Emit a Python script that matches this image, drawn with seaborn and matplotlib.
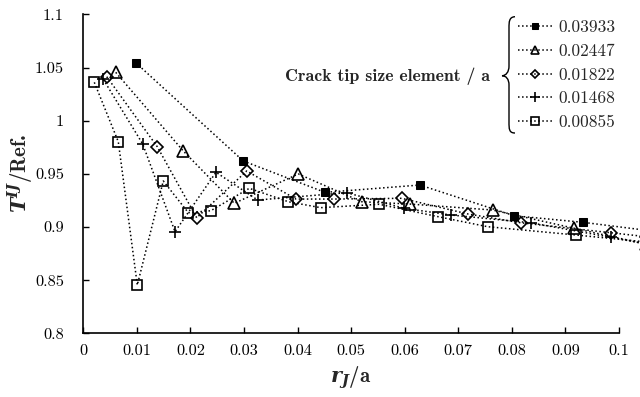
import matplotlib
matplotlib.use("Agg")
import matplotlib.pyplot as plt
from matplotlib.path import Path
from matplotlib.patches import PathPatch
import seaborn as sns
import pandas as pd

# ---- data ----
labels = ["0.03933", "0.02447", "0.01822", "0.01468", "0.00855"]

x_03933 = [0.00978, 0.02987, 0.04512, 0.06285, 0.08046, 0.09334, 0.1050]
y_03933 = [1.0546, 0.9621, 0.9326, 0.9395, 0.9106, 0.9044, 0.8970]

x_02447 = [0.00605, 0.01867, 0.02819, 0.04013, 0.05197, 0.06099, 0.07642, 0.09166, 0.1050]
y_02447 = [1.0455, 0.9715, 0.9223, 0.9499, 0.9238, 0.9216, 0.9160, 0.8988, 0.8840]

x_01822 = [0.00437, 0.01381, 0.02117, 0.0305, 0.0397, 0.0468, 0.05944, 0.07187, 0.08165, 0.09851, 0.1050]
y_01822 = [1.0414, 0.9755, 0.9087, 0.9527, 0.9263, 0.9263, 0.9270, 0.9122, 0.9040, 0.8946, 0.8910]

x_01468 = [0.00373, 0.01109, 0.01712, 0.02477, 0.03256, 0.04917, 0.05992, 0.06864, 0.08352, 0.09851, 0.1050]
y_01468 = [1.0389, 0.9781, 0.8956, 0.9515, 0.9254, 0.9323, 0.9176, 0.9113, 0.9040, 0.8903, 0.8840]

x_00855 = [0.00205, 0.00653, 0.01008, 0.01493, 0.0196, 0.02378, 0.03099, 0.03827, 0.04432,
           0.05525, 0.06627, 0.07549, 0.09197, 0.1050]
y_00855 = [1.0361, 0.9802, 0.8454, 0.9433, 0.9135, 0.9153, 0.9364, 0.9238, 0.9182,
           0.9214, 0.9097, 0.9003, 0.8925, 0.8860]

xticks = [0, 0.01, 0.02, 0.03, 0.04, 0.05, 0.06, 0.07, 0.08, 0.09, 0.1]
xtick_labels = ["0", "0.01", "0.02", "0.03", "0.04", "0.05", "0.06", "0.07", "0.08", "0.09", "0.1"]
yticks = [0.8, 0.85, 0.9, 0.95, 1.0, 1.05, 1.1]
ytick_labels = ["0.8", "0.85", "0.9", "0.95", "1", "1.05", "1.1"]

series = [(x_03933, y_03933), (x_02447, y_02447), (x_01822, y_01822),
          (x_01468, y_01468), (x_00855, y_00855)]

# ---- styling ----
sns.set_theme(style="ticks")
plt.rcParams["font.family"] = ["cmr10"]
plt.rcParams["axes.formatter.use_mathtext"] = True
plt.rcParams["mathtext.fontset"] = "custom"
plt.rcParams["mathtext.rm"] = "cmr10"
plt.rcParams["mathtext.bf"] = "cmb10"
plt.rcParams["mathtext.bfit"] = "DejaVu Serif:italic:bold"

markers = [
    dict(marker="s", markersize=5.5, markerfacecolor="black", markeredgecolor="black"),
    dict(marker="^", markersize=8, markerfacecolor="none", markeredgecolor="black", markeredgewidth=1.2),
    dict(marker="D", markersize=6, markerfacecolor="none", markeredgecolor="black", markeredgewidth=1.2),
    dict(marker="+", markersize=9, markeredgecolor="black", markeredgewidth=1.2),
    dict(marker="s", markersize=7, markerfacecolor="none", markeredgecolor="black", markeredgewidth=1.2),
]

fig = plt.figure(figsize=(6.4, 3.97), dpi=100)
ax = fig.add_axes([0.1302, 0.1604, 0.967 - 0.1302, 0.9637 - 0.1604])

for (xs, ys), lab, mk in zip(series, labels, markers):
    df = pd.DataFrame({"x": xs, "y": ys})
    sns.lineplot(data=df, x="x", y="y", ax=ax, sort=False, estimator=None,
                 color="black", linestyle=":", linewidth=1.1, label=lab,
                 clip_on=False, **mk)

ax.set_xlim(0, 0.1)
ax.set_ylim(0.8, 1.1)
ax.set_xticks(xticks)
ax.set_xticklabels(xtick_labels)
ax.set_yticks(yticks)
ax.set_yticklabels(ytick_labels)
ax.tick_params(axis="both", direction="in", length=4, width=1, labelsize=11.8, colors="black")
ax.tick_params(axis="y", pad=14)
ax.tick_params(axis="x", pad=8)
for s in ["top", "right"]:
    ax.spines[s].set_visible(False)
for s in ["left", "bottom"]:
    ax.spines[s].set_color("black")
    ax.spines[s].set_linewidth(1.2)
ax.grid(False)

ax.set_xlabel(r"$\mathbfit{r}_{\mathbfit{J}}$/a", fontfamily="cmb10", fontsize=15, labelpad=4)
ax.set_ylabel(r"$\mathbfit{T}^{\mathbfit{IJ}}$/Ref.", fontfamily="cmb10", fontsize=15, labelpad=0)

leg = ax.legend(loc="upper left", bbox_to_anchor=(518 / 640, 1 - 20 / 397),
                bbox_transform=fig.transFigure, frameon=False, fontsize=12.5,
                handlelength=1.96, handletextpad=0.35, labelspacing=0.48, borderpad=0,
                borderaxespad=0)
for h in leg.legend_handles:
    h.set_markersize(h.get_markersize() * 0.75)

fig.text(490 / 640, 1 - 76 / 397, "Crack tip size element / a", fontfamily="cmb10",
         fontsize=12.8, ha="right", va="center")

# curly brace
def P(x, y):
    return (x / 640, 1 - y / 397)

verts = [P(515, 16.7), P(509, 17), P(509, 22), P(509, 28),
         P(509, 66),
         P(509, 72), P(506, 75.7), P(502, 75.7),
         P(506, 75.7), P(509, 79), P(509, 85),
         P(509, 122),
         P(509, 129), P(509, 133), P(515, 133)]
codes = [Path.MOVETO, Path.CURVE4, Path.CURVE4, Path.CURVE4,
         Path.LINETO,
         Path.CURVE4, Path.CURVE4, Path.CURVE4,
         Path.CURVE4, Path.CURVE4, Path.CURVE4,
         Path.LINETO,
         Path.CURVE4, Path.CURVE4, Path.CURVE4]
fig.patches.append(PathPatch(Path(verts, codes), transform=fig.transFigure,
                             facecolor="none", edgecolor="black", linewidth=1.0))

fig.savefig("out.png", dpi=100)
